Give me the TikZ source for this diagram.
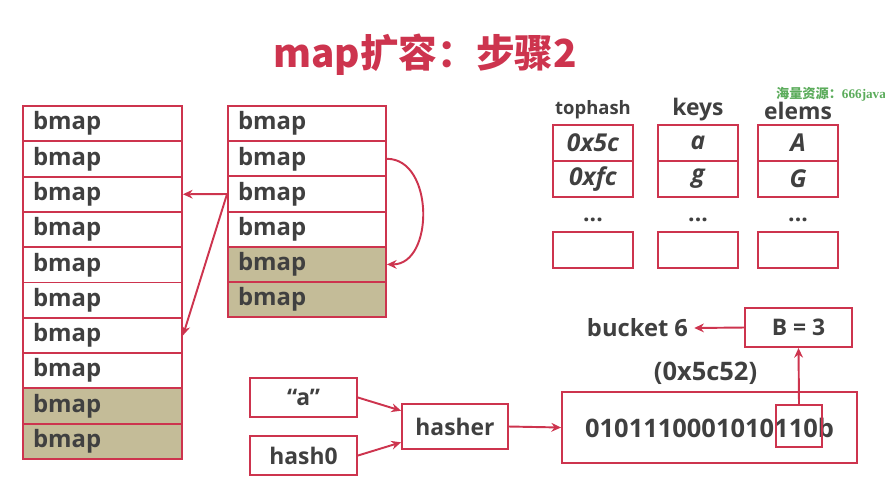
\documentclass[tikz,border=0pt]{standalone}
\usepackage{fontspec}
\setmainfont{Open Sans}
\newfontfamily\cjk{Noto Sans CJK SC}
\newfontfamily\wmserif{Liberation Serif}
\usetikzlibrary{arrows.meta}

\definecolor{bred}{RGB}{205,52,78}
\definecolor{moved}{RGB}{196,188,152}
\definecolor{ink}{RGB}{64,64,64}
\definecolor{wmgreen}{RGB}{92,172,92}

\tikzset{
  cell/.style={draw=bred, line width=1.1pt, text=ink, inner sep=0pt,
    font=\bfseries\fontsize{13}{15}\selectfont},
  bmapbox/.style={cell, inner xsep=0.2cm, minimum height=0.706cm, align=left,
    font=\bfseries\fontsize{13.6}{16}\selectfont},
  slotbox/.style={cell, minimum width=1.6cm, minimum height=0.72cm,
    font=\bfseries\itshape\fontsize{14}{16}\selectfont},
  label/.style={text=ink, font=\bfseries\fontsize{13}{15}\selectfont},
  wire/.style={draw=bred, line width=1.1pt, -{Stealth[length=5.5pt,width=5pt]}}
}

\begin{document}
\begin{tikzpicture}[x=0.02cm, y=-0.02cm]
\useasboundingbox (0,0) rectangle (885,485);

% title
\node[text=bred, font=\cjk\bfseries\fontsize{22}{26}\selectfont] (title) at (425,55) {map扩容：步骤2};
\node[text=wmgreen, font=\cjk\bfseries\fontsize{7.5}{9}\selectfont] (mark) at (831,94) {海量资源：{\wmserif\bfseries 666java}};

% new buckets (left) and old buckets (right)
\foreach \i/\c in {1/white,2/white,3/white,4/white,5/white,6/white,7/white,8/white,9/moved,10/moved}
  \node[bmapbox, fill=\c, text width=2.78cm] (L\i) at (102.5,{106+35.3*(\i-0.5)}) {bmap};
\foreach \i/\c in {1/white,2/white,3/white,4/white,5/moved,6/moved}
  \node[bmapbox, fill=\c, text width=2.76cm] (R\i) at (307,{106+35.2*(\i-0.5)}) {bmap};

\draw[wire] (R3.west) -- (L3.east); % evacuate to x
\draw[wire] (R3.west) -- (L7.east); % evacuate to y
\draw[wire] (R2.east) to[out=0, in=0, looseness=1.15] (R5.east);

% bucket contents
\node[label, font=\bfseries\fontsize{10.5}{12}\selectfont] (tophash) at (593,110) {tophash};
\node[label] (keys) at (698,110) {keys};
\node[label] (elems) at (798,111) {elems};
\node[slotbox] (th1) at (593,143) {0x5c};
\node[slotbox] (th2) at (593,179) {0xfc};
\node[slotbox] (th3) at (593,250) {};
\node[slotbox] (k1) at (698,143) {a};
\node[slotbox] (k2) at (698,179) {g};
\node[slotbox] (k3) at (698,250) {};
\node[slotbox] (e1) at (798,143) {A};
\node[slotbox] (e2) at (798,179) {G};
\node[slotbox] (e3) at (798,250) {};
\node[label] (thdots) at (593,220) {...};
\node[label] (kdots) at (698,220) {...};
\node[label] (edots) at (798,220) {...};

% hashing the key
\node[cell, minimum width=2.14cm, minimum height=0.78cm] (key) at (303.5,397.5) {“a”};
\node[cell, minimum width=2.14cm, minimum height=0.78cm] (seed) at (303.5,455.5) {hash0};
\node[cell, minimum width=2.12cm, minimum height=0.9cm] (hasher) at (455,426.5) {hasher};
\node[cell, minimum width=5.9cm, minimum height=1.42cm,
  font=\bfseries\fontsize{14.5}{17}\selectfont] (bits) at (709.5,427.5) {0101110001010110b};
\node[draw=bred, line width=0.8pt, minimum width=0.92cm, minimum height=0.84cm, inner sep=0pt] (low) at (799,426) {};
\node[cell, minimum width=2.14cm, minimum height=0.78cm] (B) at (798.5,327.5) {B = 3};
\node[label, font=\bfseries\fontsize{13.5}{16}\selectfont] (bucket) at (637.5,328) {bucket 6};
\node[label, font=\bfseries\fontsize{14.5}{17}\selectfont] (hex) at (705.5,373) {(0x5c52)};

\draw[wire] (key.east) -- ([yshift=9pt]hasher.west);
\draw[wire] (seed.east) -- ([yshift=-9pt]hasher.west);
\draw[wire] (hasher.east) -- (bits.west);
\draw[wire] (low.north) -- (B.south);
\draw[wire] (B.west) -- (bucket.east);

\end{tikzpicture}
\end{document}
